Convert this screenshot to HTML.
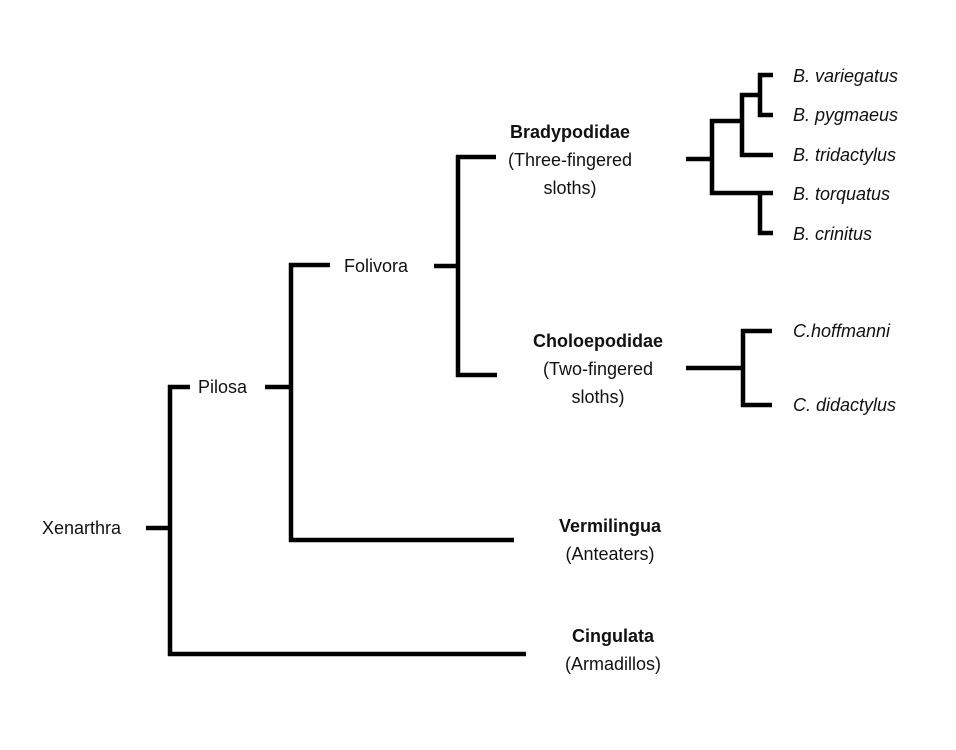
<!DOCTYPE html>
<html><head><meta charset="utf-8"><style>
html,body{margin:0;padding:0;background:#fff;}
svg{display:block;}
text{font-family:"Liberation Sans",sans-serif;font-size:18px;fill:#111;}
.i{font-style:italic;}
.b{font-weight:bold;}
</style></head><body>
<svg width="956" height="750" viewBox="0 0 956 750" xmlns="http://www.w3.org/2000/svg">
<g stroke="#000" stroke-width="4.5" fill="none" stroke-linecap="butt">
<path d="M146 528H170M170 385V656M168 387H190M168 654H526"/>
<path d="M265 387H291M291 263V542M289 265H330M289 540H514"/>
<path d="M434 266H458M458 155V377M456 157H496M456 375H497"/>
<path d="M686 159H712M712 119V195M710 121H742M710 193H773"/>
<path d="M742 93V157M740 95H760M740 155H773M760 73V117M758 75H773M758 115H773M760 191V235M758 233H773"/>
<path d="M686 368H743M743 329V407M741 331H772M741 405H772"/>
</g>
<text x="42" y="534">Xenarthra</text>
<text x="198" y="393">Pilosa</text>
<text x="344" y="272">Folivora</text>
<g text-anchor="middle">
<text x="570" y="138" class="b">Bradypodidae</text>
<text x="570" y="166">(Three-fingered</text>
<text x="570" y="194">sloths)</text>
<text x="598" y="347" class="b">Choloepodidae</text>
<text x="598" y="375">(Two-fingered</text>
<text x="598" y="403">sloths)</text>
<text x="610" y="532" class="b">Vermilingua</text>
<text x="610" y="560">(Anteaters)</text>
<text x="613" y="642" class="b">Cingulata</text>
<text x="613" y="670">(Armadillos)</text>
</g>
<g class="i">
<text x="793" y="82" class="i">B. variegatus</text>
<text x="793" y="121" class="i">B. pygmaeus</text>
<text x="793" y="161" class="i">B. tridactylus</text>
<text x="793" y="200" class="i">B. torquatus</text>
<text x="793" y="240" class="i">B. crinitus</text>
<text x="793" y="337" class="i">C.hoffmanni</text>
<text x="793" y="411" class="i">C. didactylus</text>
</g>
</svg>
</body></html>
